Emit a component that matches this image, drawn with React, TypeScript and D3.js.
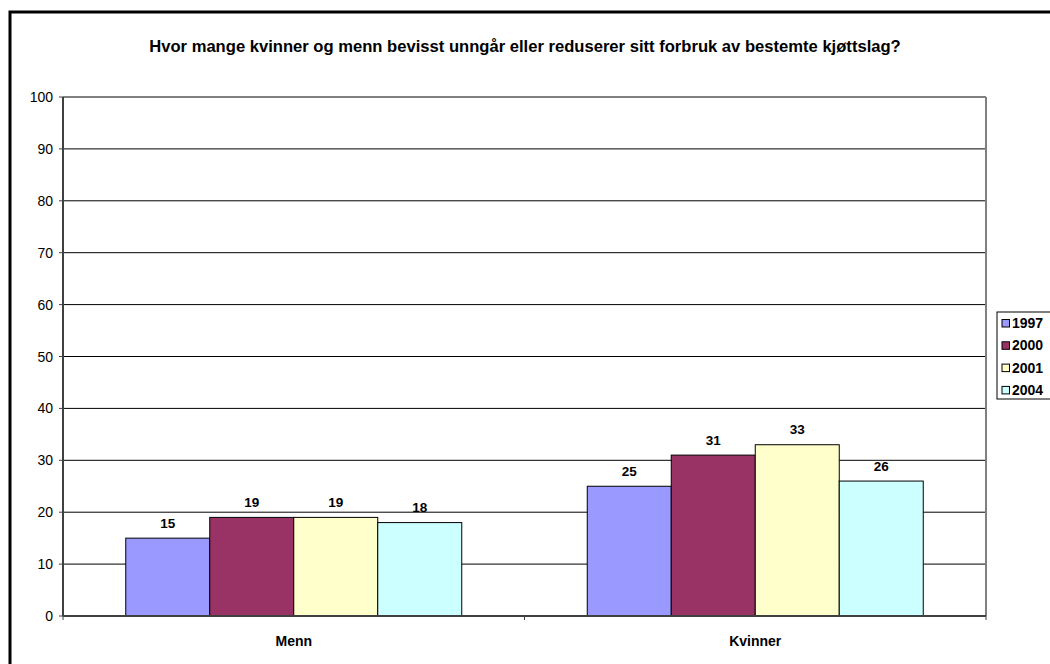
import React from "react";
import * as d3 from "d3";

const categories = ["Menn", "Kvinner"];
const years = ["1997", "2000", "2001", "2004"];
const values1997 = [15, 25];
const values2000 = [19, 31];
const values2001 = [19, 33];
const values2004 = [18, 26];
const yTicks = [0, 10, 20, 30, 40, 50, 60, 70, 80, 90, 100];
const colors = ["#9999FF", "#993366", "#FFFFCC", "#CCFFFF"];
const title =
  "Hvor mange kvinner og menn bevisst unngår eller reduserer sitt forbruk av bestemte kjøttslag?";

const seriesValues = [values1997, values2000, values2001, values2004];

const W = 1050;
const H = 664;
const plot = { left: 63, right: 986, top: 97, bottom: 616 };
const font = "'Liberation Sans', Arial, sans-serif";

export default function App() {
  const x0 = d3
    .scaleBand<string>()
    .domain(categories)
    .range([plot.left, plot.right])
    .paddingInner(0)
    .paddingOuter(0);
  const groupPad = 62.75;
  const x1 = d3
    .scaleBand<string>()
    .domain(years)
    .range([0, x0.bandwidth() - 2 * groupPad]);
  const y = d3.scaleLinear().domain([0, 100]).range([plot.bottom, plot.top]);

  return (
    <svg
      width={W}
      height={H}
      style={{ position: "absolute", left: 0, top: 0, background: "#fff" }}
      fontFamily={font}
    >
      <rect x={0} y={0} width={W} height={H} fill="#fff" />
      {/* outer chart frame */}
      <rect x={10} y={12} width={1200} height={800} fill="none" stroke="#000" strokeWidth={3} />

      <text x={525} y={52} textAnchor="middle" fontSize={16.6} fontWeight="bold" fill="#000">
        {title}
      </text>

      {/* gridlines */}
      {yTicks.slice(1, -1).map((t) => (
        <line key={t} x1={plot.left} x2={plot.right} y1={y(t)} y2={y(t)} stroke="#000" strokeWidth={1} />
      ))}
      {/* plot area border */}
      <line x1={plot.left} x2={plot.right} y1={plot.top} y2={plot.top} stroke="#808080" strokeWidth={2} />
      <line x1={plot.right} x2={plot.right} y1={plot.top} y2={plot.bottom} stroke="#808080" strokeWidth={2} />

      {/* bars */}
      {categories.map((c, ci) =>
        years.map((yr, si) => {
          const v = seriesValues[si][ci];
          const bx = (x0(c) as number) + groupPad + (x1(yr) as number);
          return (
            <g key={c + yr}>
              <rect
                x={bx}
                y={y(v)}
                width={x1.bandwidth()}
                height={y(0) - y(v)}
                fill={colors[si]}
                stroke="#000"
                strokeWidth={1}
              />
              <text
                x={bx + x1.bandwidth() / 2}
                y={y(v) - 10.5}
                textAnchor="middle"
                fontSize={13.5}
                fontWeight="bold"
                fill="#000"
              >
                {v}
              </text>
            </g>
          );
        })
      )}

      {/* y axis */}
      <line x1={plot.left} x2={plot.left} y1={plot.top} y2={plot.bottom} stroke="#404040" strokeWidth={2} />
      {yTicks.map((t) => (
        <g key={t}>
          <line x1={plot.left - 4} x2={plot.left} y1={y(t)} y2={y(t)} stroke="#404040" strokeWidth={1} />
          <text x={53} y={y(t) + 5} textAnchor="end" fontSize={14} fill="#000">
            {t}
          </text>
        </g>
      ))}

      {/* x axis */}
      <line x1={plot.left} x2={plot.right} y1={plot.bottom} y2={plot.bottom} stroke="#404040" strokeWidth={2} />
      {[plot.left, ...categories.map((c) => (x0(c) as number) + x0.bandwidth())].map((tx, i) => (
        <line key={i} x1={tx} x2={tx} y1={plot.bottom} y2={plot.bottom + 4} stroke="#404040" strokeWidth={1} />
      ))}
      {categories.map((c) => (
        <text
          key={c}
          x={(x0(c) as number) + x0.bandwidth() / 2}
          y={646}
          textAnchor="middle"
          fontSize={14}
          fontWeight="bold"
          fill="#000"
        >
          {c}
        </text>
      ))}

      {/* legend */}
      <rect x={997} y={312} width={80} height={87} fill="#fff" stroke="#000" strokeWidth={1} />
      {years.map((yr, i) => {
        const ly = 323 + i * 22.3;
        return (
          <g key={yr}>
            <rect x={1002} y={ly - 3.5} width={7.5} height={7.5} fill={colors[i]} stroke="#000" strokeWidth={1} />
            <text x={1012} y={ly + 5} fontSize={14} fontWeight="bold" fill="#000">
              {yr}
            </text>
          </g>
        );
      })}
    </svg>
  );
}
